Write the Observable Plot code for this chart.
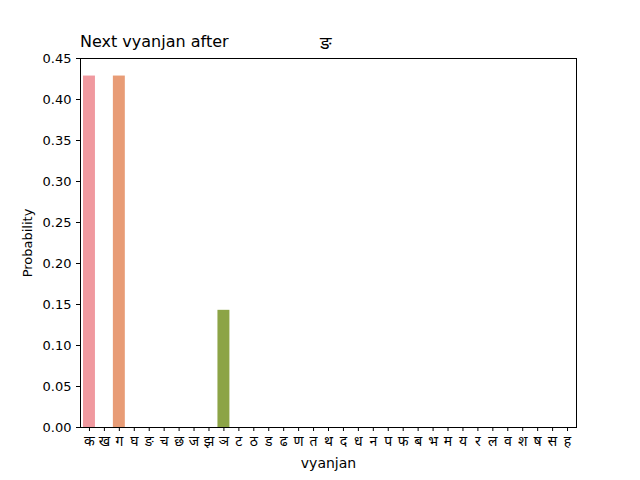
<!DOCTYPE html>
<html><head><meta charset="utf-8">
<script src="https://cdn.jsdelivr.net/npm/d3@7"></script>
<script src="https://cdn.jsdelivr.net/npm/@observablehq/plot@0.6"></script>
<style>
body{margin:0;background:#fff;font-family:"DejaVu Sans","Noto Sans",sans-serif}
#wrap{position:relative;width:640px;height:480px}
#title{position:absolute;left:80px;top:32px;font-size:16px}
#title2{position:absolute;left:320px;top:30px;font-size:18px}
</style></head><body>
<div id="wrap"><div id="title">Next vyanjan after</div><div id="title2">ङ</div><div id="chart"></div></div>
<script>
const vyanjan = ["क","ख","ग","घ","ङ","च","छ","ज","झ","ञ","ट","ठ","ड","ढ","ण","त","थ","द","ध","न","प","फ","ब","भ","म","य","र","ल","व","श","ष","स","ह"];
const probability = [0.4286,0,0.4286,0,0,0,0,0,0,0.1429,0,0,0,0,0,0,0,0,0,0,0,0,0,0,0,0,0,0,0,0,0,0,0];
const barColors = {"क":"#f0999f","ग":"#e89c76","ञ":"#8ca446"};

const data = vyanjan.map((v, i) => ({v, p: probability[i]}));

const chart = Plot.plot({
  width: 640, height: 480,
  marginTop: 58, marginBottom: 53, marginLeft: 80, marginRight: 64,
  style: {fontSize: "12px", fontFamily: "DejaVu Sans, Noto Sans, sans-serif", background: "white", color: "black"},
  x: {domain: vyanjan, padding: 0.2},
  y: {domain: [0, 0.45]},
  marks: [
    Plot.barY(data.filter(d => d.p > 0), {x: "v", y: "p", fill: d => barColors[d.v]}),
    Plot.frame({stroke: "black"}),
    Plot.axisX({label: "vyanjan", labelAnchor: "center", labelArrow: "none", labelOffset: 40, tickSize: 4, fontSize: 14}),
    Plot.axisY({ticks: d3.range(0, 0.451, 0.05), tickFormat: d => d.toFixed(2), label: "Probability", labelAnchor: "center", labelArrow: "none", labelOffset: 58, tickSize: 4, fontSize: 13})
  ]
});
document.getElementById("chart").append(chart);
</script></body></html>
